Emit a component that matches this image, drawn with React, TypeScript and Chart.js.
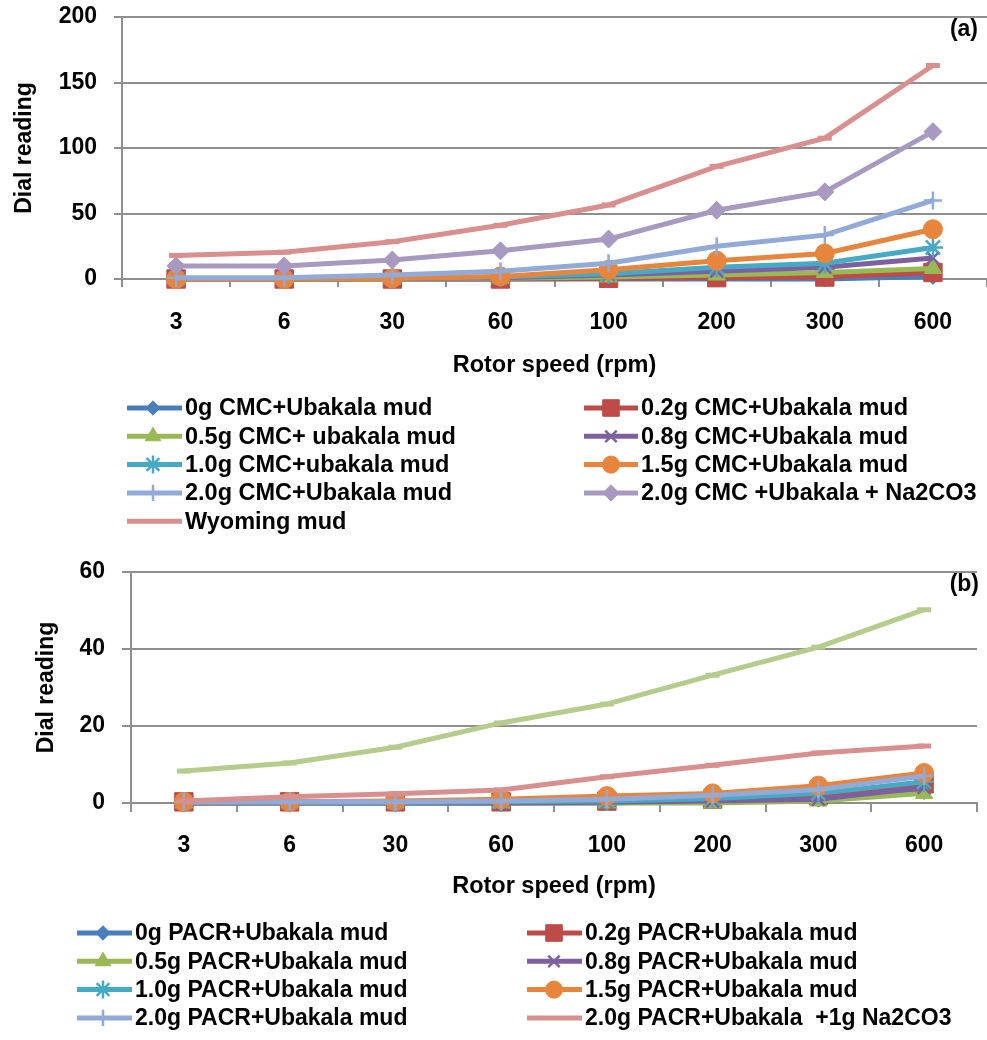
import React, { useEffect, useRef } from 'react';
import { Chart, registerables } from 'chart.js';
import { drawPoint } from 'chart.js/helpers';

Chart.register(...registerables);

const FONT = "'Liberation Sans', Arial, sans-serif";

// ---------- data ----------
const rotorSpeeds = ['3', '6', '30', '60', '100', '200', '300', '600'];

// Chart (a) – CMC
const cmcNames = [
  '0g CMC+Ubakala mud',
  '0.2g CMC+Ubakala mud',
  '0.5g CMC+ ubakala mud',
  '0.8g CMC+Ubakala mud',
  '1.0g CMC+ubakala mud',
  '1.5g CMC+Ubakala mud',
  '2.0g CMC+Ubakala mud',
  '2.0g CMC +Ubakala + Na2CO3',
  'Wyoming mud',
];
const cmc0 = [0, 0, 0, 0, 0, 0, 0, 2];
const cmc02 = [0, 0, 0, 0, 0.5, 1, 1.5, 5];
const cmc05 = [0, 0, 0, 0.5, 1.5, 3, 5, 8];
const cmc08 = [0, 0, 0.3, 1, 3, 6, 9, 16];
const cmc10 = [0, 0, 0.5, 1.5, 4, 9, 12, 24];
const cmc15 = [0, 0, 0.5, 2, 7, 14, 19.5, 38];
const cmc20 = [1, 1, 3, 6, 12, 25, 33.5, 60];
const cmc20Na = [10, 10, 14.5, 21.5, 30.5, 52.5, 66.5, 112.5];
const wyomingA = [18, 20.5, 28.5, 41, 56.5, 86, 107.5, 163];

// Chart (b) – PACR
const pacrNames = [
  '0g PACR+Ubakala mud',
  '0.2g PACR+Ubakala mud',
  '0.5g PACR+Ubakala mud',
  '0.8g PACR+Ubakala mud',
  '1.0g PACR+Ubakala mud',
  '1.5g PACR+Ubakala mud',
  '2.0g PACR+Ubakala mud',
  '2.0g PACR+Ubakala  +1g Na2CO3',
  'Wyoming mud',
];
const pacr0 = [0, 0, 0, 0, 0, 0.5, 1, 3];
const pacr02 = [0.3, 0.3, 0.3, 0.3, 0.5, 1, 2, 5];
const pacr05 = [0, 0, 0, 0, 0, 0, 0.5, 2.5];
const pacr08 = [0, 0, 0, 0, 0.2, 0.5, 1, 4];
const pacr10 = [0.2, 0.2, 0.2, 0.3, 0.5, 1.2, 2.5, 5.5];
const pacr15 = [0.3, 0.3, 0.5, 1, 1.8, 2.5, 4.5, 7.8];
const pacr20 = [0.3, 0.3, 0.3, 0.5, 1, 2, 3.5, 7];
const pacr20Na = [0.5, 1.6, 2.4, 3.4, 6.8, 9.8, 13, 14.8];
const wyomingB = [8.3, 10.4, 14.5, 20.8, 25.7, 33.2, 40.5, 50.2];

const yTicksA = { min: 0, max: 200, step: 50 };
const yTicksB = { min: 0, max: 60, step: 20 };

// ---------- styles ----------
const stBlue = { color: '#4A7EBB', point: 'rectRot', r: 8, stroke: false };
const stRed = { color: '#BE4B48', point: 'rect', r: 13, stroke: false };
const stGreen = { color: '#98B954', point: 'triangle', r: 10, stroke: false };
const stPurple = { color: '#7D60A0', point: 'crossRot', r: 9, stroke: true };
const stTeal = { color: '#46AAC5', point: 'star', r: 10, stroke: true };
const stOrange = { color: '#E8853C', point: 'circle', r: 9.5, stroke: false };
const stLightBlue = { color: '#92AAD8', point: 'cross', r: 9, stroke: true };
const stLavender = { color: '#A899C0', point: 'rectRot', r: 9, stroke: false };
const stPink = { color: '#D98F8D', point: 'line', r: 7, stroke: true };
const stLightGreen = { color: '#B5CD8C', point: 'line', r: 7, stroke: true };

const stylesA = [stBlue, stRed, stGreen, stPurple, stTeal, stOrange, stLightBlue, stLavender, stPink];
const stylesB = [stBlue, stRed, stGreen, stPurple, stTeal, stOrange, stLightBlue, stPink, stLightGreen];

function makeDataset(label: string, data: number[], st: any, order: number) {
  return {
    label,
    data,
    borderColor: st.color,
    backgroundColor: st.color,
    pointBackgroundColor: st.color,
    pointBorderColor: st.color,
    borderWidth: 5,
    pointStyle: st.point,
    pointRadius: st.r,
    pointBorderWidth: st.point === 'line' ? 5 : st.stroke ? 2.5 : 1,
    tension: 0,
    fill: false,
    clip: false,
    order,
  };
}

const legendPlugin = {
  id: 'seriesLegend',
  afterDraw(chart: any, _args: any, opts: any) {
    const ctx = chart.ctx;
    ctx.save();
    (opts.items || []).forEach((it: any) => {
      const d = chart.data.datasets[it.index];
      ctx.strokeStyle = d.borderColor;
      ctx.lineWidth = 5;
      ctx.lineCap = 'butt';
      ctx.beginPath();
      ctx.moveTo(it.x0, it.y);
      ctx.lineTo(it.x1, it.y);
      ctx.stroke();
      if (d.pointStyle !== 'line') {
        ctx.fillStyle = d.pointBackgroundColor;
        ctx.strokeStyle = d.pointBorderColor;
        ctx.lineWidth = d.pointBorderWidth;
        drawPoint(ctx, { pointStyle: d.pointStyle, radius: d.pointRadius * 0.9, borderWidth: d.pointBorderWidth, rotation: 0 }, it.mx, it.y);
      }
      ctx.fillStyle = '#000';
      ctx.font = `bold ${opts.fontSize}px ${FONT}`;
      ctx.textBaseline = 'middle';
      ctx.textAlign = 'left';
      ctx.fillText(d.label, it.tx, it.y + 1);
    });
    if (opts.tag) {
      ctx.fillStyle = '#000';
      ctx.font = `bold 23px ${FONT}`;
      ctx.textBaseline = 'middle';
      ctx.textAlign = 'right';
      ctx.fillText(opts.tag.text, opts.tag.x, opts.tag.y);
    }
    ctx.restore();
  },
};

function legendItems(count: number, col1: any, col2: any, y0: number, dy: number) {
  const items: any[] = [];
  for (let i = 0; i < count; i++) {
    const c = i % 2 === 0 ? col1 : col2;
    const row = Math.floor(i / 2);
    items.push({ index: i, x0: c.x0, x1: c.x1, mx: c.mx, tx: c.tx, y: y0 + row * dy });
  }
  return items;
}

function buildConfig(p: any) {
  const gridColor = '#8F8F8F';
  return {
    type: 'line',
    data: { labels: rotorSpeeds, datasets: p.datasets },
    plugins: [legendPlugin],
    options: {
      responsive: false,
      animation: false,
      devicePixelRatio: 1,
      layout: { padding: p.padding, autoPadding: false },
      plugins: {
        legend: { display: false },
        tooltip: { enabled: false },
        seriesLegend: { items: p.legend, tag: p.tag, fontSize: p.legendFont },
      },
      scales: {
        x: {
          type: 'category',
          offset: true,
          afterFit: (s: any) => { s.height = 110; s.paddingLeft = 0; s.paddingRight = 0; },
          grid: { display: true, drawOnChartArea: false, drawTicks: true, tickLength: p.tickLen, offset: true, color: gridColor, lineWidth: 2 },
          border: { display: true, color: gridColor, width: 2 },
          ticks: { color: '#000', padding: p.xTickPad, maxRotation: 0, font: { family: FONT, size: 23, weight: 'bold' } },
          title: { display: true, text: 'Rotor speed (rpm)', color: '#000', padding: { top: 0, bottom: p.xTitlePad }, font: { family: FONT, size: 23.5, weight: 'bold' } },
        },
        y: {
          min: p.y.min,
          max: p.y.max,
          afterFit: (s: any) => { s.width = p.yWidth; s.paddingTop = 0; s.paddingBottom = 0; },
          grid: { color: gridColor, lineWidth: 2, tickLength: p.tickLen },
          border: { display: true, color: gridColor, width: 2 },
          ticks: { stepSize: p.y.step, color: '#000', padding: 17, font: { family: FONT, size: 23, weight: 'bold' } },
          title: { display: true, text: 'Dial reading', color: '#000', padding: { top: p.yTitlePad, bottom: 0 }, font: { family: FONT, size: 23, weight: 'bold' } },
        },
      },
    },
  };
}

function ChartCanvas({ top, height, config }: any) {
  const ref = useRef<HTMLCanvasElement>(null);
  useEffect(() => {
    if (!ref.current) return;
    const chart = new Chart(ref.current, config());
    return () => chart.destroy();
  }, []);
  return (
    <div style={{ position: 'absolute', left: 0, top, width: 987, height }}>
      <canvas ref={ref} width={987} height={height} style={{ display: 'block', width: 987, height }} />
    </div>
  );
}

const cmcSeries = [cmc0, cmc02, cmc05, cmc08, cmc10, cmc15, cmc20, cmc20Na, wyomingA];
const pacrSeries = [pacr0, pacr02, pacr05, pacr08, pacr10, pacr15, pacr20, pacr20Na, wyomingB];

function configA() {
  const n = cmcSeries.length;
  const datasets = cmcSeries.map((d, i) => makeDataset(cmcNames[i], d, stylesA[i], n - i));
  return buildConfig({
    datasets,
    padding: { top: 17, left: 0, right: 0, bottom: 156 },
    yWidth: 122,
    tickLen: 8,
    xTickPad: 22,
    xTitlePad: 9,
    yTitlePad: 11,
    y: yTicksA,
    legendFont: 23.5,
    legend: legendItems(9, { x0: 127, x1: 182, mx: 153, tx: 185 }, { x0: 584, x1: 638, mx: 611, tx: 641 }, 408, 28.3),
    tag: { text: '(a)', x: 978, y: 30 },
  });
}

function configB() {
  const n = pacrSeries.length;
  const datasets = pacrSeries.map((d, i) => makeDataset(pacrNames[i], d, stylesB[i], n - i));
  return buildConfig({
    datasets,
    padding: { top: 27, left: 0, right: 10, bottom: 127 },
    yWidth: 131,
    tickLen: 9,
    xTickPad: 20,
    xTitlePad: 12,
    yTitlePad: 33,
    y: yTicksB,
    legendFont: 23,
    legend: legendItems(8, { x0: 77, x1: 132, mx: 103, tx: 135 }, { x0: 527, x1: 582, mx: 554, tx: 585 }, 388, 28.3),
    tag: { text: '(b)', x: 979, y: 40 },
  });
}

export default function App() {
  return (
    <div style={{ position: 'absolute', left: 0, top: 0, width: 987, height: 1040 }}>
      <ChartCanvas top={0} height={545} config={configA} />
      <ChartCanvas top={545} height={495} config={configB} />
    </div>
  );
}
